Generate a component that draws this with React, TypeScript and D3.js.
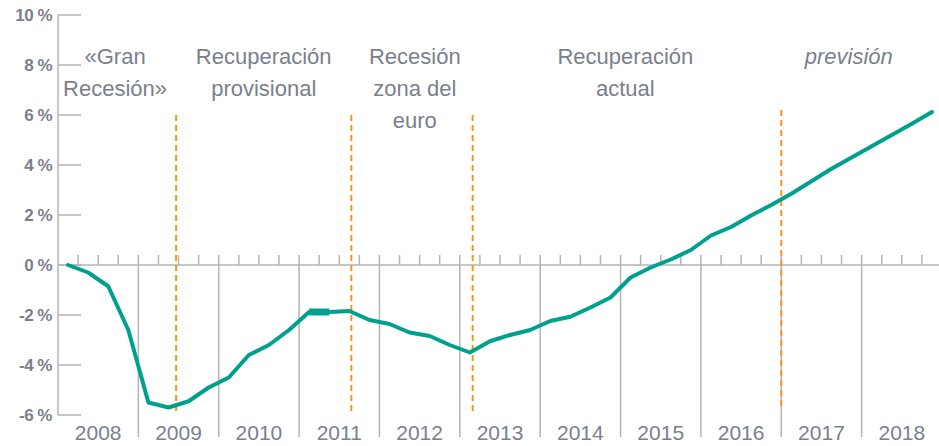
import React from "react";
import * as d3 from "d3";

const years = [2008, 2009, 2010, 2011, 2012, 2013, 2014, 2015, 2016, 2017, 2018];
const yTicks = [-6, -4, -2, 0, 2, 4, 6, 8, 10];

// quarterly values (%), 2008Q1 .. 2018Q4
const values = [
  0, -0.3, -0.85, -2.6,
  -5.5, -5.7, -5.45, -4.9,
  -4.5, -3.6, -3.2, -2.6,
  -1.88, -1.88, -1.84, -2.2,
  -2.36, -2.7, -2.84, -3.2,
  -3.5, -3.05, -2.8, -2.6,
  -2.24, -2.07, -1.7, -1.3,
  -0.5, -0.1, 0.22, 0.6,
  1.18, 1.52, 1.98, 2.4,
  2.85, 3.35, 3.85, 4.3,
  4.75, 5.2, 5.65, 6.12,
];

// phase boundaries (fractional year) and their vertical extent (%)
const boundaryYears = [2009.47, 2011.65, 2013.16, 2017.0];
const boundaryTop = [6, 6, 6, 6.2];
const boundaryBottom = [-6, -6, -6, -5.7];

// phase labels
const phaseLines = [
  ["«Gran", "Recesión»"],
  ["Recuperación", "provisional"],
  ["Recesión", "zona del", "euro"],
  ["Recuperación", "actual"],
  ["previsión"],
];
const phaseCenters = [2008.71, 2010.56, 2012.44, 2015.06, 2017.84];
const phaseItalic = [false, false, false, false, true];

const W = 939;
const H = 446;
const TEXT = "#7b7f8c";
const GRID = "#b4b4b8";
const TEAL = "#00a08f";
const ORANGE = "#f7941d";
const FONT = "'Liberation Sans', Arial, sans-serif";

export default function App() {
  const x = d3.scaleLinear().domain([2008, 2019]).range([58, 942]);
  const y = d3.scaleLinear().domain([-6, 10]).range([415, 15]);

  const pts: [number, number][] = values.map((v, i) => [2008 + (i + 0.5) / 4, v]);
  const line = d3
    .line<[number, number]>()
    .x((d) => x(d[0]))
    .y((d) => y(d[1]))
    .curve(d3.curveLinear);

  const quarterTicks: number[] = [];
  for (let i = 1; i < 44; i++) if (i % 4 !== 0) quarterTicks.push(2008 + i / 4);
  const yearLines = years.slice(1);

  const baselines = [64, 96, 128];

  return (
    <svg
      width={W}
      height={H}
      style={{ position: "absolute", left: 0, top: 0, background: "#fff" }}
      fontFamily={FONT}
    >
      {/* y axis */}
      <line x1={x(2008)} x2={x(2008)} y1={y(10)} y2={y(-6)} stroke={GRID} strokeWidth={1.5} />
      {yTicks.map((t) => (
        <g key={t}>
          <line x1={x(2008)} x2={x(2008) + 23} y1={y(t)} y2={y(t)} stroke={GRID} strokeWidth={1.5} />
          <text
            x={52}
            y={y(t) + 6}
            textAnchor="end"
            fontSize={17}
            fontWeight="bold"
            fill={TEXT}
            letterSpacing={-0.5}
          >
            {(t < 0 ? "-" + Math.abs(t) : String(t)) + " %"}
          </text>
        </g>
      ))}

      {/* x axis at 0 */}
      <line x1={x(2008)} x2={W} y1={y(0)} y2={y(0)} stroke={GRID} strokeWidth={1.5} />
      {quarterTicks.map((q) => (
        <line key={q} x1={x(q)} x2={x(q)} y1={y(0) - 10} y2={y(0)} stroke={GRID} strokeWidth={1.5} />
      ))}
      {yearLines.map((yr) => (
        <line key={yr} x1={x(yr)} x2={x(yr)} y1={y(0) - 10} y2={437} stroke={GRID} strokeWidth={1.5} />
      ))}
      {years.map((yr) => (
        <text key={yr} x={x(yr + 0.5)} y={440} textAnchor="middle" fontSize={21} fill={TEXT}>
          {yr}
        </text>
      ))}

      {/* phase boundaries */}
      {boundaryYears.map((b, i) => (
        <line
          key={b}
          x1={x(b)}
          x2={x(b)}
          y1={y(boundaryTop[i])}
          y2={y(boundaryBottom[i])}
          stroke={ORANGE}
          strokeWidth={2}
          strokeDasharray="6,4"
        />
      ))}

      {/* phase labels */}
      {phaseLines.map((lines, i) => (
        <text
          key={i}
          x={x(phaseCenters[i])}
          textAnchor="middle"
          fontSize={22}
          fill={TEXT}
          fontStyle={phaseItalic[i] ? "italic" : "normal"}
        >
          {lines.map((l, j) => (
            <tspan key={j} x={x(phaseCenters[i])} y={baselines[j]}>
              {l}
            </tspan>
          ))}
        </text>
      ))}

      {/* series */}
      <path d={line(pts) || ""} fill="none" stroke={TEAL} strokeWidth={4} strokeLinejoin="round" strokeLinecap="round" />
      <path d={line(pts.slice(12, 14)) || ""} fill="none" stroke={TEAL} strokeWidth={7} />
    </svg>
  );
}
